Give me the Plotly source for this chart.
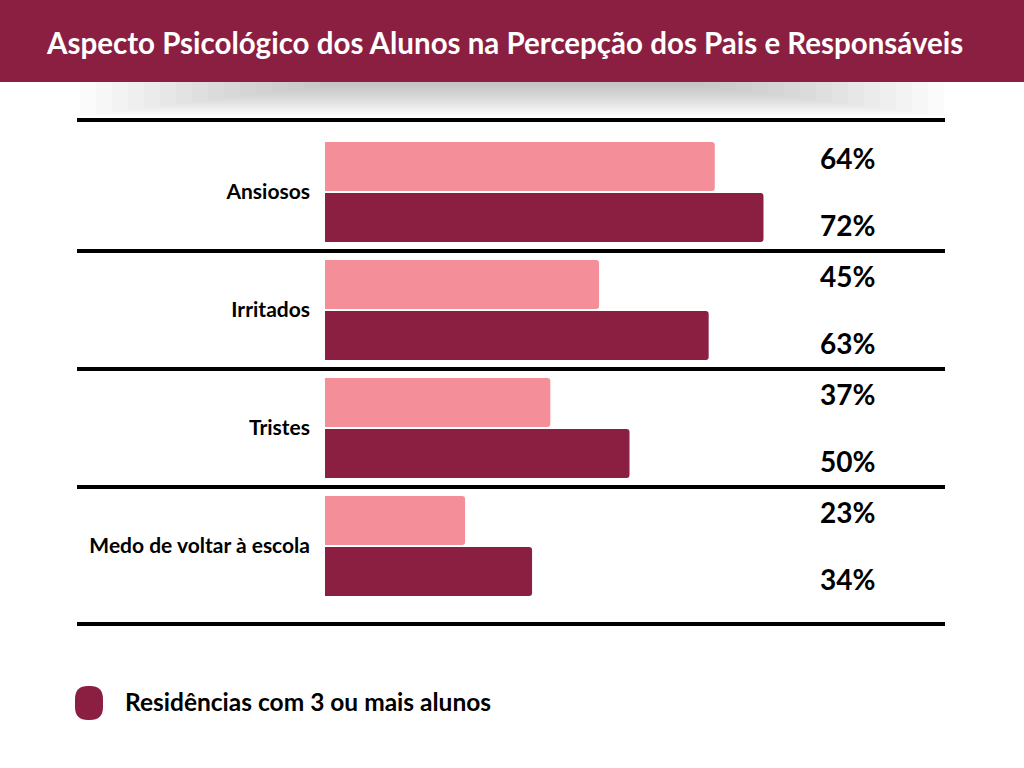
import re

import plotly.graph_objects as go

# Données
categorias = ["Ansiosos", "Irritados", "Tristes", "Medo de voltar à escola"]
serie_rosa = [64, 45, 37, 23]
serie_vinho = [72, 63, 50, 34]
legenda_vinho = "Residências com 3 ou mais alunos"
titulo = "Aspecto Psicológico dos Alunos na Percepção dos Pais e Responsáveis"

VINHO = "#8B1F42"
ROSA = "#F48E99"
W, H = 1024, 768
FONT = "Lato"


def py(px):
    """pixel depuis le haut -> coordonnée paper"""
    return 1 - px / H


fig = go.Figure()

fig.add_trace(go.Bar(
    y=categorias, x=serie_rosa, orientation="h",
    marker=dict(color=ROSA, cornerradius=3, line_width=0),
    showlegend=False, hoverinfo="skip",
))
fig.add_trace(go.Bar(
    y=categorias, x=serie_vinho, orientation="h",
    marker=dict(color=VINHO, cornerradius=3, line_width=0),
    name=legenda_vinho, showlegend=False, hoverinfo="skip",
))

# Valeurs à droite (colonne fixe)
for cat, v_r, v_v in zip(categorias, serie_rosa, serie_vinho):
    for val, shift in ((v_r, 34), (v_v, -33)):
        fig.add_annotation(
            x=81.0, y=cat, xref="x", yref="y", yshift=shift,
            text=f"{val}%", showarrow=False, xanchor="left", yanchor="middle",
            font=dict(family=FONT, size=28, color="black", weight="bold"),
        )

# Lignes horizontales de séparation
for yv in [-0.61, 0.5, 1.5, 2.5, 3.66]:
    fig.add_shape(type="line", xref="paper", yref="y",
                  x0=77 / W, x1=945 / W, y0=yv, y1=yv,
                  line=dict(color="black", width=4))

# Ombre douce sous le bandeau
for i in range(16):
    fig.add_shape(type="rect", xref="paper", yref="paper", layer="below",
                  x0=(80 + i * 16) / W, x1=(944 - i * 16) / W,
                  y0=py(82 + 34 - i * 2), y1=py(82),
                  fillcolor="rgba(110,110,110,0.028)", line_width=0)
# Bandeau de titre
fig.add_shape(type="rect", xref="paper", yref="paper",
              x0=0, x1=1, y0=py(82), y1=1,
              fillcolor=VINHO, line_width=0)
fig.add_annotation(
    x=504 / W, y=py(42), xref="paper", yref="paper",
    text=titulo, showarrow=False, xanchor="center", yanchor="middle",
    font=dict(family=FONT, size=29.5, color="white", weight="bold"),
)

# Légende (pastille arrondie + texte)
x0, x1, y0, y1, r = 75, 103, 686, 720, 13
path = (f"M {x0 + r},{y0} L {x1 - r},{y0} Q {x1},{y0} {x1},{y0 + r} "
        f"L {x1},{y1 - r} Q {x1},{y1} {x1 - r},{y1} L {x0 + r},{y1} "
        f"Q {x0},{y1} {x0},{y1 - r} L {x0},{y0 + r} Q {x0},{y0} {x0 + r},{y0} Z")


def _conv(m):
    xp, yp = float(m.group(1)), float(m.group(2))
    return f"{xp / W:.5f},{py(yp):.5f}"


path = re.sub(r"([\d.]+),([\d.]+)", _conv, path)
fig.add_shape(type="path", xref="paper", yref="paper", path=path,
              fillcolor=VINHO, line_width=0)
fig.add_annotation(
    x=123 / W, y=py(701), xref="paper", yref="paper",
    text=legenda_vinho, showarrow=False, xanchor="left", yanchor="middle",
    font=dict(family=FONT, size=24.5, color="black", weight="bold"),
)

fig.update_layout(
    width=W, height=H,
    margin=dict(l=0, r=0, t=0, b=0),
    paper_bgcolor="white", plot_bgcolor="white",
    barmode="group", bargap=16 / 118, bargroupgap=0.04,
    xaxis=dict(domain=[325 / W, 1], range=[0, (W - 325) / 6.09],
               visible=False, fixedrange=True),
    yaxis=dict(range=[(H - 192) / 118, -192 / 118],
               showgrid=False, zeroline=False, showline=False,
               ticks="", ticklabelstandoff=14, fixedrange=True,
               tickfont=dict(family=FONT, size=21, color="black", weight="bold")),
)

fig.write_html("out.html", config={"displayModeBar": False},
               post_script="document.body.style.margin='0';")
